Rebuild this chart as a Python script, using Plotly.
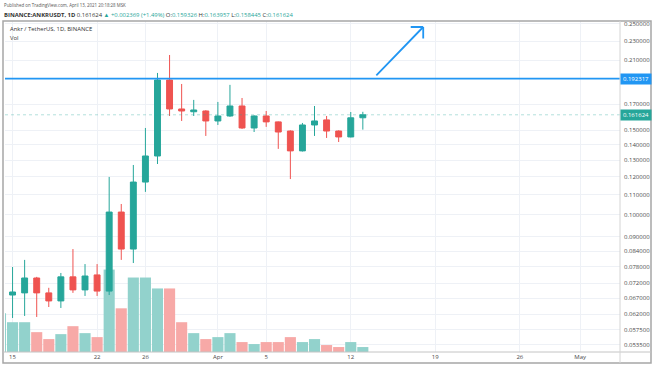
import math
import plotly.graph_objects as go

# ---------------- data ----------------
dates = ["2021-03-14", "2021-03-15", "2021-03-16", "2021-03-17", "2021-03-18", "2021-03-19",
         "2021-03-20", "2021-03-21", "2021-03-22", "2021-03-23", "2021-03-24", "2021-03-25",
         "2021-03-26", "2021-03-27", "2021-03-28", "2021-03-29", "2021-03-30", "2021-03-31",
         "2021-04-01", "2021-04-02", "2021-04-03", "2021-04-04", "2021-04-05", "2021-04-06",
         "2021-04-07", "2021-04-08", "2021-04-09", "2021-04-10", "2021-04-11", "2021-04-12",
         "2021-04-13"]
open_ = [0.0661, 0.0680, 0.0687, 0.0738, 0.0687, 0.0661, 0.0742, 0.0697, 0.0749, 0.0693,
         0.1013, 0.0848, 0.1170, 0.1326, 0.1910, 0.1662, 0.1640, 0.1646, 0.1569, 0.1607,
         0.1686, 0.1517, 0.1607, 0.1562, 0.1495, 0.1359, 0.1539, 0.1577, 0.1495, 0.1453,
         0.159326]
high = [0.0690, 0.0778, 0.0805, 0.0742, 0.0704, 0.0756, 0.0848, 0.0789, 0.0789, 0.1199,
        0.1053, 0.1270, 0.1517, 0.1976, 0.2154, 0.1874, 0.1736, 0.1652, 0.1719, 0.1866,
        0.1752, 0.1612, 0.1646, 0.1565, 0.1500, 0.1554, 0.1686, 0.1607, 0.1500, 0.1638,
        0.163957]
low = [0.0650, 0.0609, 0.0615, 0.0612, 0.0642, 0.0639, 0.0687, 0.0677, 0.0677, 0.0680,
       0.0805, 0.0793, 0.1116, 0.1276, 0.1607, 0.1569, 0.1607, 0.1460, 0.1539, 0.1600,
       0.1510, 0.1488, 0.1525, 0.1372, 0.1187, 0.1355, 0.1460, 0.1446, 0.1418, 0.1450,
       0.1505]
close = [0.0674, 0.0690, 0.0738, 0.0687, 0.0661, 0.0742, 0.0697, 0.0745, 0.0693, 0.1013,
         0.0848, 0.1170, 0.1326, 0.1910, 0.1662, 0.1646, 0.1654, 0.1569, 0.1607, 0.1686,
         0.1517, 0.1607, 0.1562, 0.1488, 0.1359, 0.1539, 0.1569, 0.1495, 0.1453, 0.1593,
         0.161624]
volume_m = [234, 180, 180, 120, 78, 108, 156, 114, 90, 498,
            264, 450, 450, 384, 384, 180, 114, 78, 90, 114,
            60, 48, 60, 60, 90, 60, 78, 42, 30, 60,
            30]

price_ticks = [0.25, 0.23, 0.21, 0.17, 0.15, 0.14, 0.13, 0.12, 0.11, 0.10, 0.09,
               0.084, 0.078, 0.072, 0.067, 0.062, 0.0575, 0.0535]
price_tick_text = ["%.6f" % v for v in price_ticks]

date_ticks = ["2021-03-15", "2021-03-22", "2021-03-26", "2021-04-01", "2021-04-05",
              "2021-04-12", "2021-04-19", "2021-04-26", "2021-05-01"]
date_tick_text = ["15", "22", "26", "Apr", "5", "12", "19", "26", "May"]

level_price = 0.192317
last_price = 0.161624
arrow_from = ("2021-04-14", 0.1938)
arrow_to = ("2021-04-18", 0.2464)

x_range = ["2021-03-14 09:00", "2021-05-04 07:00"]
y_range = [0.05172, 0.2536]
vol_max = 2000

# ---------------- style ----------------
UP = "#26a69a"
DOWN = "#ef5350"
UP_V = "#92d2cc"
DOWN_V = "#f7a9a7"
BLUE = "#2196f3"
GRID = "#eef1f6"
TXT = "#4a4a4a"
FONT = "Open Sans, Arial, sans-serif"

vol_colors = [UP_V if c >= o else DOWN_V for o, c in zip(open_, close)]

fig = go.Figure()

fig.add_trace(go.Bar(
    x=dates, y=volume_m, marker=dict(color=vol_colors, line=dict(width=0)),
    width=0.92 * 86400000, yaxis="y", xaxis="x", showlegend=False, hoverinfo="skip"))

fig.add_trace(go.Scatter(
    x=x_range, y=[last_price, last_price], mode="lines",
    line=dict(color="rgba(38,166,154,0.35)", width=1, dash="dot"),
    yaxis="y2", showlegend=False, hoverinfo="skip"))

fig.add_trace(go.Scatter(
    x=["2021-03-13", "2021-05-06"], y=[level_price, level_price], mode="lines",
    line=dict(color=BLUE, width=1.8),
    yaxis="y2", showlegend=False, hoverinfo="skip"))

fig.add_trace(go.Candlestick(
    x=dates, open=open_, high=high, low=low, close=close,
    increasing=dict(line=dict(color=UP, width=1), fillcolor=UP),
    decreasing=dict(line=dict(color=DOWN, width=1), fillcolor=DOWN),
    yaxis="y2", showlegend=False, whiskerwidth=0))

def py(pix):
    return 1 - (pix - 21) / 331.0

def px(pix):
    return (pix - 5) / 615.0

tip_x, tip_y = arrow_to[0], math.log10(arrow_to[1])

annotations = [
    dict(text="Published on TradingView.com, April 13, 2021 20:18:28 MSK",
         xref="paper", yref="paper", x=px(2), y=py(5), xanchor="left", yanchor="middle",
         showarrow=False, font=dict(size=4.4, color="#555", family=FONT)),
    dict(text=("<b>BINANCE:ANKRUSDT, 1D</b> 0.161624 <span style='color:%s'>▲ +0.002369 (+1.49%%)</span> "
               "O:<span style='color:%s'>0.159326</span> H:<span style='color:%s'>0.163957</span> "
               "L:<span style='color:%s'>0.158445</span> C:<span style='color:%s'>0.161624</span>")
         % (UP, UP, UP, UP, UP),
         xref="paper", yref="paper", x=px(2), y=py(15), xanchor="left", yanchor="middle",
         showarrow=False, font=dict(size=5.9, color="#333", family=FONT)),
    dict(text="Ankr / TetherUS, 1D, BINANCE",
         xref="paper", yref="paper", x=px(8), y=py(29), xanchor="left", yanchor="middle",
         showarrow=False, font=dict(size=5.9, color="#333", family=FONT)),
    dict(text="Vol",
         xref="paper", yref="paper", x=px(8), y=py(38), xanchor="left", yanchor="middle",
         showarrow=False, font=dict(size=5.9, color="#333", family=FONT)),
    dict(text="%.6f" % level_price, xref="paper", yref="y2", x=1.0, y=math.log10(level_price),
         xanchor="left", yanchor="middle", showarrow=False, bgcolor=BLUE, borderpad=1,
         width=28, font=dict(size=6, color="white", family=FONT)),
    dict(text="%.6f" % last_price, xref="paper", yref="y2", x=1.0, y=math.log10(last_price),
         xanchor="left", yanchor="middle", showarrow=False, bgcolor=UP, borderpad=1,
         width=28, font=dict(size=6, color="white", family=FONT)),
    # arrow shaft
    dict(text="", xref="x", yref="y2", axref="x", ayref="y2",
         x=tip_x, y=tip_y, ax=arrow_from[0], ay=math.log10(arrow_from[1]),
         showarrow=True, arrowhead=0, arrowwidth=1.8, arrowcolor=BLUE),
    # open chevron head (two arms)
    dict(text="", xref="x", yref="y2", x=tip_x, y=tip_y, ax=-14, ay=0,
         showarrow=True, arrowhead=0, arrowwidth=1.8, arrowcolor=BLUE),
    dict(text="", xref="x", yref="y2", x=tip_x, y=tip_y, ax=0, ay=13,
         showarrow=True, arrowhead=0, arrowwidth=1.8, arrowcolor=BLUE),
]

shapes = [
    dict(type="rect", xref="paper", yref="paper", x0=px(3), x1=px(651), y0=py(363), y1=py(21),
         line=dict(color="#a6a6a6", width=1.5), layer="above"),
    dict(type="line", xref="paper", yref="paper", x0=px(3), x1=px(651), y0=py(352), y1=py(352),
         line=dict(color="#c4c4c4", width=1), layer="above"),
    dict(type="line", xref="paper", yref="paper", x0=px(620), x1=px(620), y0=py(363), y1=py(21),
         line=dict(color="#d4d4d4", width=1), layer="above"),
]

fig.update_layout(
    width=654, height=366,
    margin=dict(l=5, r=34, t=21, b=14),
    paper_bgcolor="white", plot_bgcolor="white",
    font=dict(family=FONT, size=6, color=TXT),
    showlegend=False,
    annotations=annotations,
    shapes=shapes,
    xaxis=dict(type="date", range=x_range, tickvals=date_ticks, ticktext=date_tick_text,
               showgrid=True, gridcolor=GRID, gridwidth=1, ticks="", showline=False,
               zeroline=False, rangeslider=dict(visible=False),
               tickfont=dict(size=6, color=TXT)),
    yaxis=dict(range=[0, vol_max], visible=False, showgrid=False, zeroline=False, fixedrange=True),
    yaxis2=dict(type="log", overlaying="y", side="right", anchor="x",
                range=[math.log10(y_range[0]), math.log10(y_range[1])],
                tickvals=price_ticks, ticktext=price_tick_text,
                showgrid=True, gridcolor=GRID, gridwidth=1, ticks="", showline=False,
                zeroline=False, tickfont=dict(size=6, color=TXT), ticklabelstandoff=3),
)

fig.write_html("out.html", config={"displayModeBar": False},
               post_script="document.body.style.margin='0';document.body.style.padding='0';")
